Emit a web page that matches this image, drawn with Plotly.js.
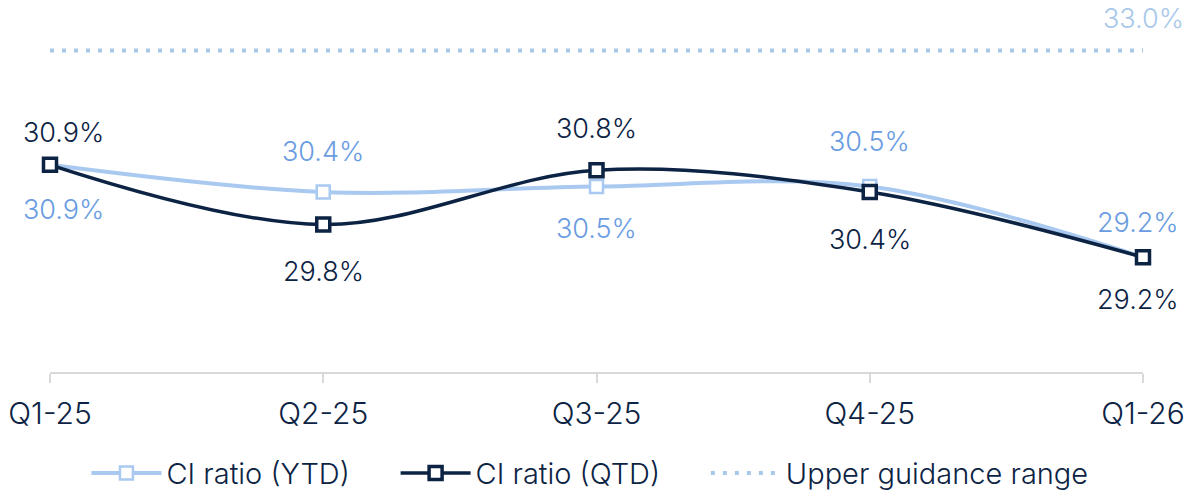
<!DOCTYPE html>
<html>
<head>
<meta charset="utf-8">
<script src="https://cdn.plot.ly/plotly-3.0.1.min.js"></script>
<style>html,body{margin:0;padding:0;background:#fff;}#chart{width:1189px;height:499px;}</style>
</head>
<body>
<div id="chart"></div>
<script>
const categories = ["Q1-25", "Q2-25", "Q3-25", "Q4-25", "Q1-26"];
const ytdValues = [30.9, 30.4, 30.5, 30.5, 29.2];
const qtdValues = [30.9, 29.8, 30.8, 30.4, 29.2];
const guidanceValues = [33.0, 33.0, 33.0, 33.0, 33.0];
const seriesNames = ["CI ratio (YTD)", "CI ratio (QTD)", "Upper guidance range"];

// label offsets (px, + above / - below the marker)
const ytdLabelOffset = [-45, 40, -42, 45, 35];
const qtdLabelOffset = [32, -47, 42, -48, -42];

const NAVY = "#0c2344";
const LIGHT = "#a9c9f1";
const LIGHT_TEXT = "#6a9ce2";
const GUIDE = "#a8c8ea";
const FONT = "Inter, 'Open Sans', sans-serif";
const PAD = "\u00a0\u00a0\u00a0\u00a0\u00a0";

const traces = [
  {
    x: categories, y: ytdValues, name: seriesNames[0] + PAD, type: "scatter",
    mode: "lines+markers", cliponaxis: false,
    line: {color: LIGHT, width: 4, shape: "spline", smoothing: 1},
    marker: {symbol: "square", size: 13, color: "#ffffff", line: {color: LIGHT, width: 2.5}},
    hoverinfo: "skip"
  },
  {
    x: categories, y: qtdValues, name: seriesNames[1] + PAD, type: "scatter",
    mode: "lines+markers", cliponaxis: false,
    line: {color: NAVY, width: 3.5, shape: "spline", smoothing: 1},
    marker: {symbol: "square", size: 13, color: "#ffffff", line: {color: NAVY, width: 3.5}},
    hoverinfo: "skip"
  },
  {
    x: categories, y: guidanceValues, name: seriesNames[2], type: "scatter",
    mode: "lines", cliponaxis: false,
    line: {color: GUIDE, width: 4, dash: "4px,8px"},
    hoverinfo: "skip"
  }
];

function edgeShift(i, n) {
  if (i === 0) return 13;
  if (i === n - 1) return -5;
  return 0;
}

const annotations = [];
function addLabels(vals, offsets, color) {
  vals.forEach((v, i) => {
    annotations.push({
      x: categories[i], y: v, xref: "x", yref: "y",
      text: v.toFixed(1) + "%", showarrow: false,
      font: {family: FONT, size: 27, weight: 300, color: color},
      xshift: edgeShift(i, vals.length),
      yshift: offsets[i]
    });
  });
}
addLabels(ytdValues, ytdLabelOffset, LIGHT_TEXT);
addLabels(qtdValues, qtdLabelOffset, NAVY);
annotations.push({
  x: categories[categories.length - 1], y: guidanceValues[guidanceValues.length - 1],
  xref: "x", yref: "y", text: guidanceValues[guidanceValues.length - 1].toFixed(1) + "%",
  showarrow: false, font: {family: FONT, size: 27, weight: 300, color: GUIDE}, yshift: 32
});

const layout = {
  width: 1189, height: 499,
  margin: {l: 50, r: 46, t: 0, b: 121},
  paper_bgcolor: "#ffffff", plot_bgcolor: "#ffffff",
  font: {family: FONT, color: NAVY},
  showlegend: true,
  legend: {
    orientation: "h", x: 0.494, xanchor: "center", y: -0.272, yanchor: "middle",
    font: {family: FONT, size: 29, weight: 300, color: NAVY},
    itemwidth: 70, tracegroupgap: 0
  },
  xaxis: {
    type: "category", range: [0, 4], showgrid: false, zeroline: false,
    showline: true, linecolor: "#d9d9d9", linewidth: 2,
    ticks: "outside", ticklen: 9, tickwidth: 2, tickcolor: "#d9d9d9",
    tickfont: {family: FONT, size: 30, weight: 300, color: NAVY}, ticklabelstandoff: 5
  },
  yaxis: {
    range: [27.09, 33.93], visible: false, showgrid: false, zeroline: false
  },
  annotations: annotations
};

Plotly.newPlot("chart", traces, layout, {displayModeBar: false, staticPlot: true});
</script>
</body>
</html>
